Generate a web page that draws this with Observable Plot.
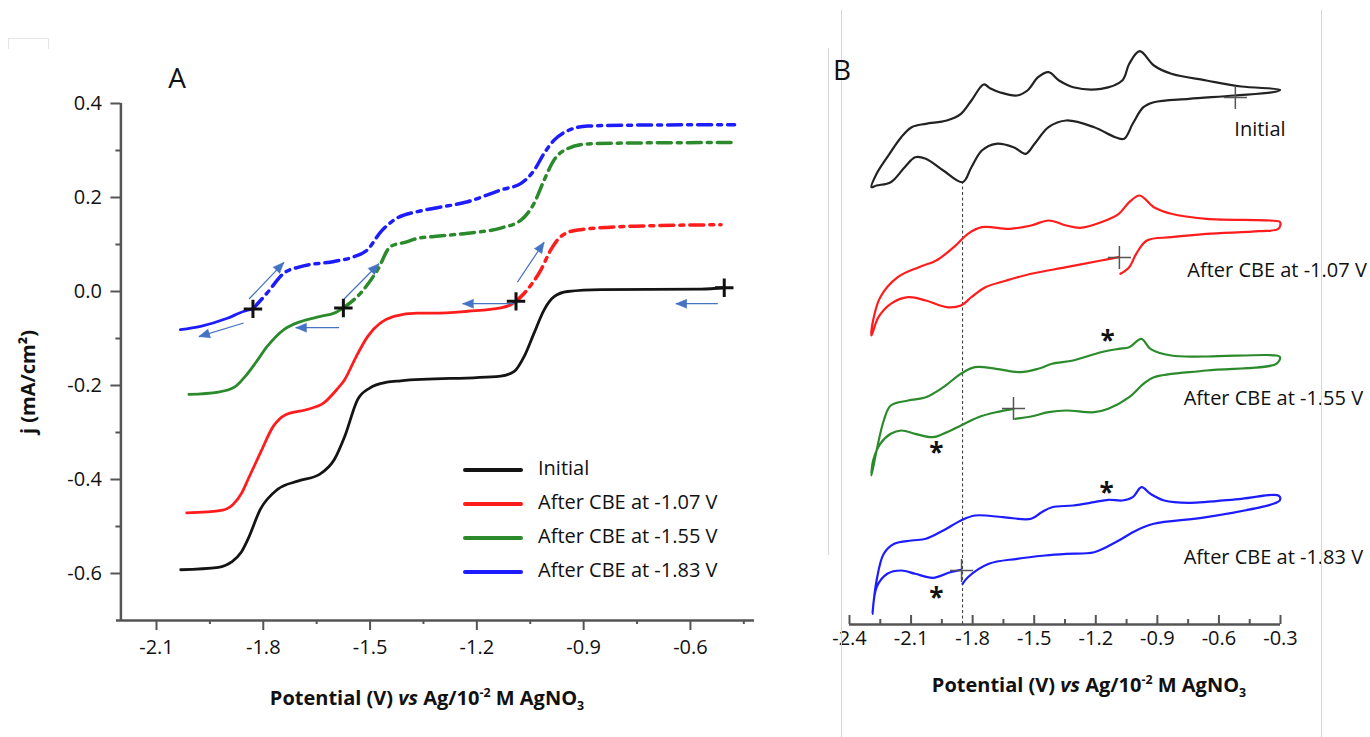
<!DOCTYPE html>
<html>
<head>
<meta charset="utf-8">
<script src="https://cdn.jsdelivr.net/npm/d3@7"></script>
<script src="https://cdn.jsdelivr.net/npm/@observablehq/plot@0.6"></script>
<style>
  body { margin: 0; background: #fff; font-family: 'Open Sans', sans-serif; }
  #root { position: relative; width: 1370px; height: 737px; overflow: hidden; background: #fff; }
  .abs { position: absolute; }
  .ttl { position: absolute; transform: translate(-50%, -50%); white-space: nowrap; font-weight: 700; font-size: 20px; color: #111; }
  .ttl sup, .ttl sub { font-size: 0.62em; line-height: 0; }
  .ylab { position: absolute; transform: translate(-50%, -50%) rotate(-90deg); white-space: nowrap; font-weight: 700; font-size: 20px; color: #111; }
  .panel { position: absolute; transform: translate(-50%, -50%); font-size: 28px; color: #111; }
  .leg { position: absolute; font-size: 20px; color: #111; white-space: nowrap; }
  .swatch { position: absolute; height: 4px; width: 60px; border-radius: 2px; }
  .vline { position: absolute; width: 1px; background: #d6d6d6; }
</style>
</head>
<body>
<div id="root">
  <div id="plotA" class="abs" style="left:0;top:0"></div>
  <div id="plotB" class="abs" style="left:800px;top:0"></div>
</div>
<script>
// ---------------- Panel A : linear sweep voltammograms ----------------
const seriesNames = ["Initial", "After CBE at -1.07 V", "After CBE at -1.55 V", "After CBE at -1.83 V"];

// Initial (black), solid
const initV = [-2.032, -1.926, -1.890, -1.862, -1.843, -1.808, -1.760, -1.701, -1.642, -1.600, -1.571, -1.535, -1.500, -1.453, -1.414, -1.133, -1.095, -1.067, -1.039, -1.011, -0.983, -0.945, -0.851, -0.570, -0.505];
const initJ = [-0.592, -0.587, -0.576, -0.555, -0.527, -0.463, -0.421, -0.403, -0.389, -0.357, -0.308, -0.230, -0.205, -0.193, -0.190, -0.180, -0.170, -0.138, -0.088, -0.039, -0.011, 0.000, 0.004, 0.005, 0.008];

// After CBE at -1.07 V (red)
const redSolidV = [-2.015, -1.914, -1.885, -1.860, -1.843, -1.808, -1.772, -1.737, -1.677, -1.630, -1.594, -1.571, -1.540, -1.507, -1.433, -1.367, -1.320, -1.226, -1.133, -1.104, -1.090];
const redSolidJ = [-0.471, -0.465, -0.453, -0.428, -0.400, -0.343, -0.287, -0.262, -0.251, -0.237, -0.209, -0.187, -0.140, -0.096, -0.053, -0.046, -0.046, -0.042, -0.035, -0.028, -0.021];
const redDashV = [-1.090, -1.058, -1.020, -0.992, -0.964, -0.917, -0.758, -0.514];
const redDashJ = [-0.021, 0.004, 0.046, 0.089, 0.117, 0.131, 0.139, 0.142];

// After CBE at -1.55 V (green)
const greenSolidV = [-2.009, -1.926, -1.880, -1.850, -1.820, -1.789, -1.742, -1.695, -1.639, -1.601, -1.575];
const greenSolidJ = [-0.219, -0.214, -0.203, -0.180, -0.150, -0.117, -0.081, -0.064, -0.053, -0.046, -0.035];
const greenDashV = [-1.575, -1.526, -1.479, -1.442, -1.400, -1.367, -1.320, -1.226, -1.133, -1.076, -1.039, -1.011, -0.983, -0.945, -0.889, -0.758, -0.486];
const greenDashJ = [-0.035, -0.003, 0.046, 0.096, 0.105, 0.113, 0.117, 0.124, 0.135, 0.152, 0.188, 0.237, 0.280, 0.304, 0.314, 0.316, 0.317];

// After CBE at -1.83 V (blue)
const blueSolidV = [-2.033, -1.976, -1.901, -1.854, -1.829];
const blueSolidJ = [-0.081, -0.074, -0.057, -0.042, -0.037];
const blueDashV = [-1.829, -1.789, -1.742, -1.695, -1.601, -1.545, -1.507, -1.470, -1.433, -1.367, -1.320, -1.226, -1.133, -1.076, -1.039, -1.011, -0.983, -0.945, -0.889, -0.758, -0.476];
const blueDashJ = [-0.037, -0.003, 0.039, 0.053, 0.064, 0.074, 0.089, 0.127, 0.152, 0.170, 0.177, 0.191, 0.216, 0.230, 0.258, 0.294, 0.322, 0.342, 0.352, 0.354, 0.355];

// scan start markers (+) : black, red, green, blue
const startV = [-0.505, -1.090, -1.575, -1.829];
const startJ = [0.008, -0.021, -0.035, -0.037];

// scan direction arrows (tail -> head)
const arrowV1 = [-0.523, -1.090, -1.086, -1.587, -1.573, -1.840, -1.855];
const arrowJ1 = [-0.026, -0.026, 0.020, -0.077, -0.016, -0.016, -0.067];
const arrowV2 = [-0.641, -1.240, -1.011, -1.709, -1.475, -1.742, -1.981];
const arrowJ2 = [-0.026, -0.026, 0.105, -0.077, 0.059, 0.062, -0.096];

// axes
const xTicksA = [-2.1, -1.8, -1.5, -1.2, -0.9, -0.6];
const xMinorA = [-1.95, -1.65, -1.35, -1.05, -0.75, -0.45];
const yTicksA = [0.4, 0.2, 0.0, -0.2, -0.4, -0.6];
const yMinorA = [0.3, 0.1, -0.1, -0.3, -0.5];

// ---------------- Panel B : cyclic voltammograms (stacked, offset current) ----------------
const cvInitV = [-0.302,-0.491,-0.661,-0.832,-0.917,-0.986,-1.037,-1.071,-1.174,-1.310,-1.379,-1.430,-1.481,-1.533,-1.584,-1.669,-1.713,-1.746,-1.806,-1.857,-1.926,-2.028,-2.097,-2.148,-2.216,-2.268,-2.293,-2.268,-2.199,-2.131,-2.080,-2.028,-1.943,-1.849,-1.806,-1.755,-1.686,-1.601,-1.541,-1.498,-1.430,-1.344,-1.208,-1.105,-1.062,-1.020,-0.968,-0.917,-0.746,-0.524,-0.319];
const cvInitI = [5.347,5.38,5.44,5.507,5.59,5.733,5.607,5.44,5.357,5.373,5.44,5.523,5.473,5.34,5.29,5.323,5.36,5.40,5.24,5.107,5.04,5.007,4.973,4.873,4.673,4.507,4.373,4.39,4.423,4.573,4.673,4.657,4.54,4.423,4.573,4.74,4.807,4.773,4.707,4.807,4.973,5.04,4.973,4.873,4.857,5.007,5.173,5.223,5.257,5.29,5.33];

const cvRedV = [-1.088,-1.174,-1.344,-1.515,-1.635,-1.738,-1.806,-1.857,-1.926,-2.028,-2.114,-2.199,-2.259,-2.293,-2.285,-2.250,-2.165,-2.062,-1.977,-1.892,-1.823,-1.755,-1.618,-1.515,-1.430,-1.344,-1.276,-1.174,-1.088,-1.037,-0.986,-0.917,-0.832,-0.661,-0.353,-0.302,-0.310,-0.404,-0.661,-0.832,-0.951,-1.003,-1.037,-1.080];
const cvRedI = [3.673,3.64,3.573,3.507,3.44,3.373,3.273,3.19,3.173,3.24,3.273,3.207,3.073,2.89,3.04,3.273,3.473,3.573,3.64,3.773,3.907,3.973,3.957,3.99,4.04,3.99,3.967,4.023,4.107,4.223,4.29,4.173,4.107,4.057,4.04,4.023,3.957,3.933,3.907,3.873,3.84,3.707,3.573,3.507];

const cvGreenV = [-1.601,-1.686,-1.772,-1.857,-1.943,-1.994,-2.080,-2.148,-2.199,-2.250,-2.285,-2.293,-2.268,-2.233,-2.199,-2.114,-2.028,-1.943,-1.857,-1.789,-1.686,-1.567,-1.481,-1.413,-1.310,-1.174,-1.088,-1.037,-0.978,-0.934,-0.832,-0.661,-0.320,-0.302,-0.320,-0.661,-0.917,-0.968,-1.037,-1.139,-1.208,-1.344,-1.430,-1.515,-1.592];
const cvGreenI = [2.157,2.123,2.073,1.99,1.907,1.873,1.907,1.94,1.907,1.807,1.64,1.49,1.74,2.04,2.19,2.24,2.273,2.373,2.507,2.573,2.557,2.523,2.557,2.607,2.64,2.723,2.757,2.773,2.857,2.757,2.69,2.68,2.69,2.673,2.607,2.54,2.473,2.407,2.273,2.157,2.123,2.14,2.123,2.08,2.057];

const cvBlueV = [-1.857,-1.909,-1.994,-2.080,-2.148,-2.216,-2.268,-2.288,-2.268,-2.233,-2.182,-2.097,-2.028,-1.943,-1.857,-1.789,-1.652,-1.515,-1.464,-1.413,-1.310,-1.208,-1.139,-1.071,-1.020,-0.977,-0.934,-0.866,-0.746,-0.490,-0.310,-0.302,-0.335,-0.661,-0.917,-1.003,-1.088,-1.208,-1.344,-1.447,-1.584,-1.721,-1.823,-1.849];
const cvBlueI = [0.547,0.523,0.467,0.507,0.54,0.507,0.373,0.107,0.44,0.707,0.807,0.84,0.857,0.94,1.04,1.09,1.073,1.057,1.123,1.173,1.19,1.223,1.247,1.24,1.273,1.373,1.307,1.24,1.217,1.257,1.29,1.247,1.207,1.073,1.007,0.94,0.84,0.723,0.707,0.69,0.657,0.607,0.473,0.407];

const cvStartV = [-0.520, -1.085, -1.601, -1.854];
const cvStartI = [5.27, 3.67, 2.16, 0.54];
const starV = [-1.143, -1.977, -1.148, -1.977];
const starI = [2.89, 1.773, 1.373, 0.323];
const cvLabelText = ["Initial", "After CBE at -1.07 V", "After CBE at -1.55 V", "After CBE at -1.83 V"];
const cvLabelV = [-0.525, -0.754, -0.772, -0.772];
const cvLabelI = [4.95, 3.54, 2.26, 0.673];
const guideV = [-1.849];
const guideTop = [4.423];

const xTicksB = [-2.4, -2.1, -1.8, -1.5, -1.2, -0.9, -0.6, -0.3];
const xMinorB = [-2.25, -1.95, -1.65, -1.35, -1.05, -0.75, -0.45];

// ---------------- styling ----------------
const C = { black: "#141414", red: "#ff1c1c", green: "#2b8a2b", blue: "#1c1cff", arrow: "#4472c4", axis: "#555555", text: "#111111" };
const dashPattern = "14,6,4,6";
const fmt = d => d.toFixed(1);
const pts = (V, Y) => V.map((v, i) => ({ v, y: Y[i] }));

// Panel A frame
const A = { width: 800, height: 737, ml: 120.4, mr: 46, mt: 103, mb: 117, xDom: [-2.2, -0.42], yDom: [-0.7, 0.4] };
const kx = (A.width - A.ml - A.mr) / (A.xDom[1] - A.xDom[0]);
const ky = (A.height - A.mt - A.mb) / (A.yDom[1] - A.yDom[0]);
const arrows = arrowV1.map((v, i) => {
  const dx = (arrowV2[i] - v) * kx, dyUp = (arrowJ2[i] - arrowJ1[i]) * ky;
  return { x1: v, y1: arrowJ1[i], x2: arrowV2[i], y2: arrowJ2[i], angle: Math.atan2(dx, dyUp) * 180 / Math.PI };
});

// ---------------- Plot A ----------------
const plotA = Plot.plot({
  width: A.width, height: A.height,
  marginLeft: A.ml, marginRight: A.mr, marginTop: A.mt, marginBottom: A.mb,
  x: { domain: A.xDom, label: null },
  y: { domain: A.yDom, label: null },
  style: { fontFamily: "'Open Sans', sans-serif", fontSize: "20px", color: C.text, background: "transparent", overflow: "visible" },
  marks: [
    Plot.ruleX([-2.2], { y1: -0.7, y2: 0.4, stroke: C.axis, strokeWidth: 2.5 }),
    Plot.ruleY([-0.7], { x1: -2.2125, x2: -0.42, stroke: C.axis, strokeWidth: 2.5 }),
    Plot.axisY({ ticks: yTicksA, tickSize: 10, tickPadding: 9, tickFormat: fmt, label: null, stroke: C.axis, strokeWidth: 2, fill: C.text, fontSize: 20 }),
    Plot.axisY({ ticks: yMinorA, tickSize: 5, tickFormat: () => "", label: null, stroke: C.axis, strokeWidth: 2 }),
    Plot.axisX({ ticks: xTicksA, tickSize: 10, tickPadding: 9, tickFormat: fmt, label: null, stroke: C.axis, strokeWidth: 2, fill: C.text, fontSize: 20 }),
    Plot.axisX({ ticks: xMinorA, tickSize: 4, tickFormat: () => "", label: null, stroke: C.axis, strokeWidth: 2 }),
    Plot.line(pts(initV, initJ), { x: "v", y: "y", stroke: C.black, strokeWidth: 2.8, curve: "monotone-x" }),
    Plot.line(pts(redSolidV, redSolidJ), { x: "v", y: "y", stroke: C.red, strokeWidth: 2.8, curve: "monotone-x" }),
    Plot.line(pts(greenSolidV, greenSolidJ), { x: "v", y: "y", stroke: C.green, strokeWidth: 2.8, curve: "monotone-x" }),
    Plot.line(pts(blueSolidV, blueSolidJ), { x: "v", y: "y", stroke: C.blue, strokeWidth: 2.8, curve: "monotone-x" }),
    Plot.line(pts(redDashV, redDashJ), { x: "v", y: "y", stroke: C.red, strokeWidth: 3.5, strokeDasharray: dashPattern, curve: "monotone-x" }),
    Plot.line(pts(greenDashV, greenDashJ), { x: "v", y: "y", stroke: C.green, strokeWidth: 3.5, strokeDasharray: dashPattern, curve: "monotone-x" }),
    Plot.line(pts(blueDashV, blueDashJ), { x: "v", y: "y", stroke: C.blue, strokeWidth: 3.5, strokeDasharray: dashPattern, curve: "monotone-x" }),
    Plot.link(arrows, { x1: "x1", y1: "y1", x2: "x2", y2: "y2", stroke: C.arrow, strokeWidth: 1.2 }),
    Plot.vector(arrows, { x: "x2", y: "y2", rotate: "angle", length: 11, r: 4.5, shape: "spike", anchor: "end", fill: C.arrow, stroke: C.arrow, strokeWidth: 0.5 }),
    Plot.dot(pts(startV, startJ), { x: "v", y: "y", symbol: "plus", r: 6, stroke: "#111", strokeWidth: 3 })
  ]
});
document.getElementById("plotA").appendChild(plotA);

// ---------------- Plot B ----------------
const plotB = Plot.plot({
  width: 570, height: 737,
  marginLeft: 49, marginRight: 90, marginTop: 24, marginBottom: 113,
  x: { domain: [-2.4, -0.3], label: null },
  y: { domain: [0, 6], axis: null, label: null },
  style: { fontFamily: "'Open Sans', sans-serif", fontSize: "20px", color: C.text, background: "transparent", overflow: "visible" },
  marks: [
    Plot.ruleX(guideV, { y1: 0, y2: guideTop[0], stroke: "#333", strokeWidth: 1, strokeDasharray: "3,2.5" }),
    Plot.ruleY([0], { x1: -2.4, x2: -0.3, stroke: C.axis, strokeWidth: 2.5 }),
    Plot.ruleX(xTicksB, { y1: 0, y2: 0.09, stroke: C.axis, strokeWidth: 2 }),
    Plot.ruleX(xMinorB, { y1: 0, y2: 0.05, stroke: C.axis, strokeWidth: 2 }),
    Plot.axisX({ ticks: xTicksB, tickSize: 0, tickPadding: 6, tickFormat: fmt, label: null, fill: C.text, fontSize: 20 }),
    Plot.line(pts(cvInitV, cvInitI), { x: "v", y: "y", stroke: "#222", strokeWidth: 2.2, curve: "catmull-rom-closed" }),
    Plot.line(pts(cvRedV, cvRedI), { x: "v", y: "y", stroke: C.red, strokeWidth: 2.2, curve: "catmull-rom" }),
    Plot.line(pts(cvGreenV, cvGreenI), { x: "v", y: "y", stroke: C.green, strokeWidth: 2.2, curve: "catmull-rom" }),
    Plot.line(pts(cvBlueV, cvBlueI), { x: "v", y: "y", stroke: C.blue, strokeWidth: 2.2, curve: "catmull-rom" }),
    Plot.dot(pts(cvStartV, cvStartI), { x: "v", y: "y", symbol: "plus", r: 7.5, stroke: "#555", strokeWidth: 1.5 }),
    Plot.text(pts(starV, starI), { x: "v", y: "y", text: () => "*", fontSize: 26, fontWeight: "bold", fill: "#111", dy: 6 }),
    Plot.text(cvLabelText.map((t, i) => ({ t, v: cvLabelV[i], y: cvLabelI[i] })), { x: "v", y: "y", text: "t", textAnchor: "start", fontSize: 20, fill: C.text })
  ]
});
document.getElementById("plotB").appendChild(plotB);

// ---------------- HTML text overlays (rich text) and legend ----------------
const root = document.getElementById("root");
function add(html, cls, style) {
  const d = document.createElement("div");
  d.className = cls; d.innerHTML = html; Object.assign(d.style, style); root.appendChild(d); return d;
}
// faint frame lines from the source figure
add("", "vline", { left: "828px", top: "48px", height: "507px" });
add("", "vline", { left: "841px", top: "10px", height: "727px" });
add("", "vline", { left: "1321px", top: "10px", height: "727px" });
add("", "abs", { left: "8px", top: "38px", width: "39px", height: "10px", border: "1px solid #e6e6e6", borderBottom: "none" });

add("A", "panel", { left: "177px", top: "77px" });
add("B", "panel", { left: "842px", top: "69px" });
add("j (mA/cm²)", "ylab", { left: "27px", top: "382px" });
const axTitle = "Potential (V) <i>vs</i> Ag/10<sup>-2</sup> M AgNO<sub>3</sub>";
add(axTitle, "ttl", { left: "427px", top: "697px" });
add(axTitle, "ttl", { left: "1089px", top: "684px" });

// legend for panel A
const legColors = [C.black, C.red, C.green, C.blue];
const legY = [470, 503.5, 537.5, 571.5];
seriesNames.forEach((name, i) => {
  add("", "swatch", { left: "463px", top: (legY[i] - 2) + "px", background: legColors[i] });
  add(name, "leg", { left: "538px", top: (legY[i] - 3) + "px", transform: "translateY(-50%)" });
});
</script>
</body>
</html>
